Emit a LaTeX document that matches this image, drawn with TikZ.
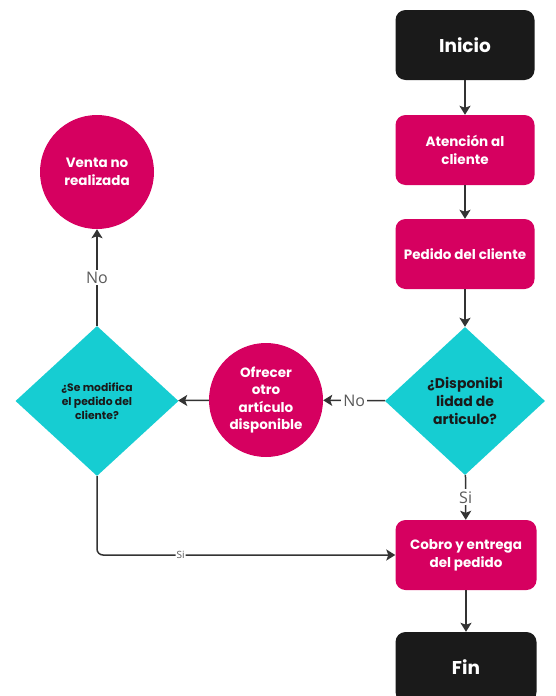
\documentclass[tikz,border=0pt]{standalone}
\usepackage{fontspec}
\setmainfont{Poppins}
\newfontfamily\lblfont{Open Sans}
\usepackage{tikz}
\usetikzlibrary{arrows.meta, positioning, shapes.geometric}
\definecolor{pedidoblack}{RGB}{26, 26, 26}
\definecolor{pedidomagenta}{RGB}{214, 0, 96}
\definecolor{pedidocyan}{RGB}{22, 205, 210}
\definecolor{pedidoline}{RGB}{51, 51, 51}
\definecolor{pedidolabel}{RGB}{90, 90, 90}

\tikzset{
  endbox/.style={fill=pedidoblack, rounded corners=10pt,
    minimum width=139pt, minimum height=70pt, text=white,
    font=\bfseries\fontsize{18.5}{22}\selectfont},
  procbox/.style={fill=pedidomagenta, rounded corners=10pt,
    minimum width=139pt, minimum height=70pt, text=white, align=center,
    inner sep=2pt, font=\bfseries\fontsize{13.5}{18}\selectfont},
  decision/.style={diamond, fill=pedidocyan, aspect=1.08, inner sep=0pt,
    align=center, text=pedidoblack},
  roundstep/.style={circle, fill=pedidomagenta, minimum size=114pt,
    inner sep=0pt, text=white, align=center,
    font=\bfseries\fontsize{13.5}{17.5}\selectfont},
  flow/.style={draw=pedidoline, line width=1.5pt,
    -{Stealth[length=9pt, width=11pt, inset=2pt]}},
  flowlabel/.style={fill=white, text=pedidolabel, inner sep=2pt,
    font=\lblfont\fontsize{16}{18}\selectfont}
}

\begin{document}
\begin{tikzpicture}[x=1pt, y=-1pt]
  \useasboundingbox (0,0) rectangle (555,696);
  \clip (0,0) rectangle (555,696);

  % main column
  \node[endbox] (inicio) at (465,45) {Inicio};
  \node[procbox] (atencion) at (465,150) {Atención al\\cliente};
  \node[procbox] (pedido) at (465,254) {Pedido del cliente};
  \node[decision, minimum width=160pt, minimum height=148pt,
        font=\bfseries\fontsize{14}{18}\selectfont] (dispo) at (465,401)
        {¿Disponibi\\lidad de\\articulo?};
  \node[procbox, minimum width=141pt] (cobro) at (466,555)
        {Cobro y entrega\\del pedido};
  \node[endbox, minimum width=141pt] (fin) at (466,667) {Fin};

  % left branch
  \node[roundstep] (ofrecer) at (266,400)
        {Ofrecer\\otro\\artículo\\disponible};
  \node[decision, minimum width=163pt, minimum height=150pt,
        font=\bfseries\fontsize{10.8}{14}\selectfont] (modifica) at (97,401)
        {¿Se modifica\\el pedido del\\cliente?};
  \node[roundstep] (venta) at (97,172) {Venta no\\realizada};

  % connectors
  \draw[flow] (inicio) -- (atencion);
  \draw[flow] (atencion) -- (pedido);
  \draw[flow] (pedido) -- (dispo);
  \draw[flow] (dispo) -- node[flowlabel] {No} (ofrecer);
  \draw[flow] (ofrecer) -- (modifica);
  \draw[flow] (modifica) -- node[flowlabel] {No} (venta);
  \draw[flow] (dispo) -- node[flowlabel] {Si} (cobro);
  \draw[flow, rounded corners=6pt] (modifica.south) |- node[pos=0.64, flowlabel,
        font=\lblfont\fontsize{10}{12}\selectfont, inner sep=1pt] {Si} (cobro.west);
  \draw[flow] (cobro) -- (fin);
\end{tikzpicture}
\end{document}
